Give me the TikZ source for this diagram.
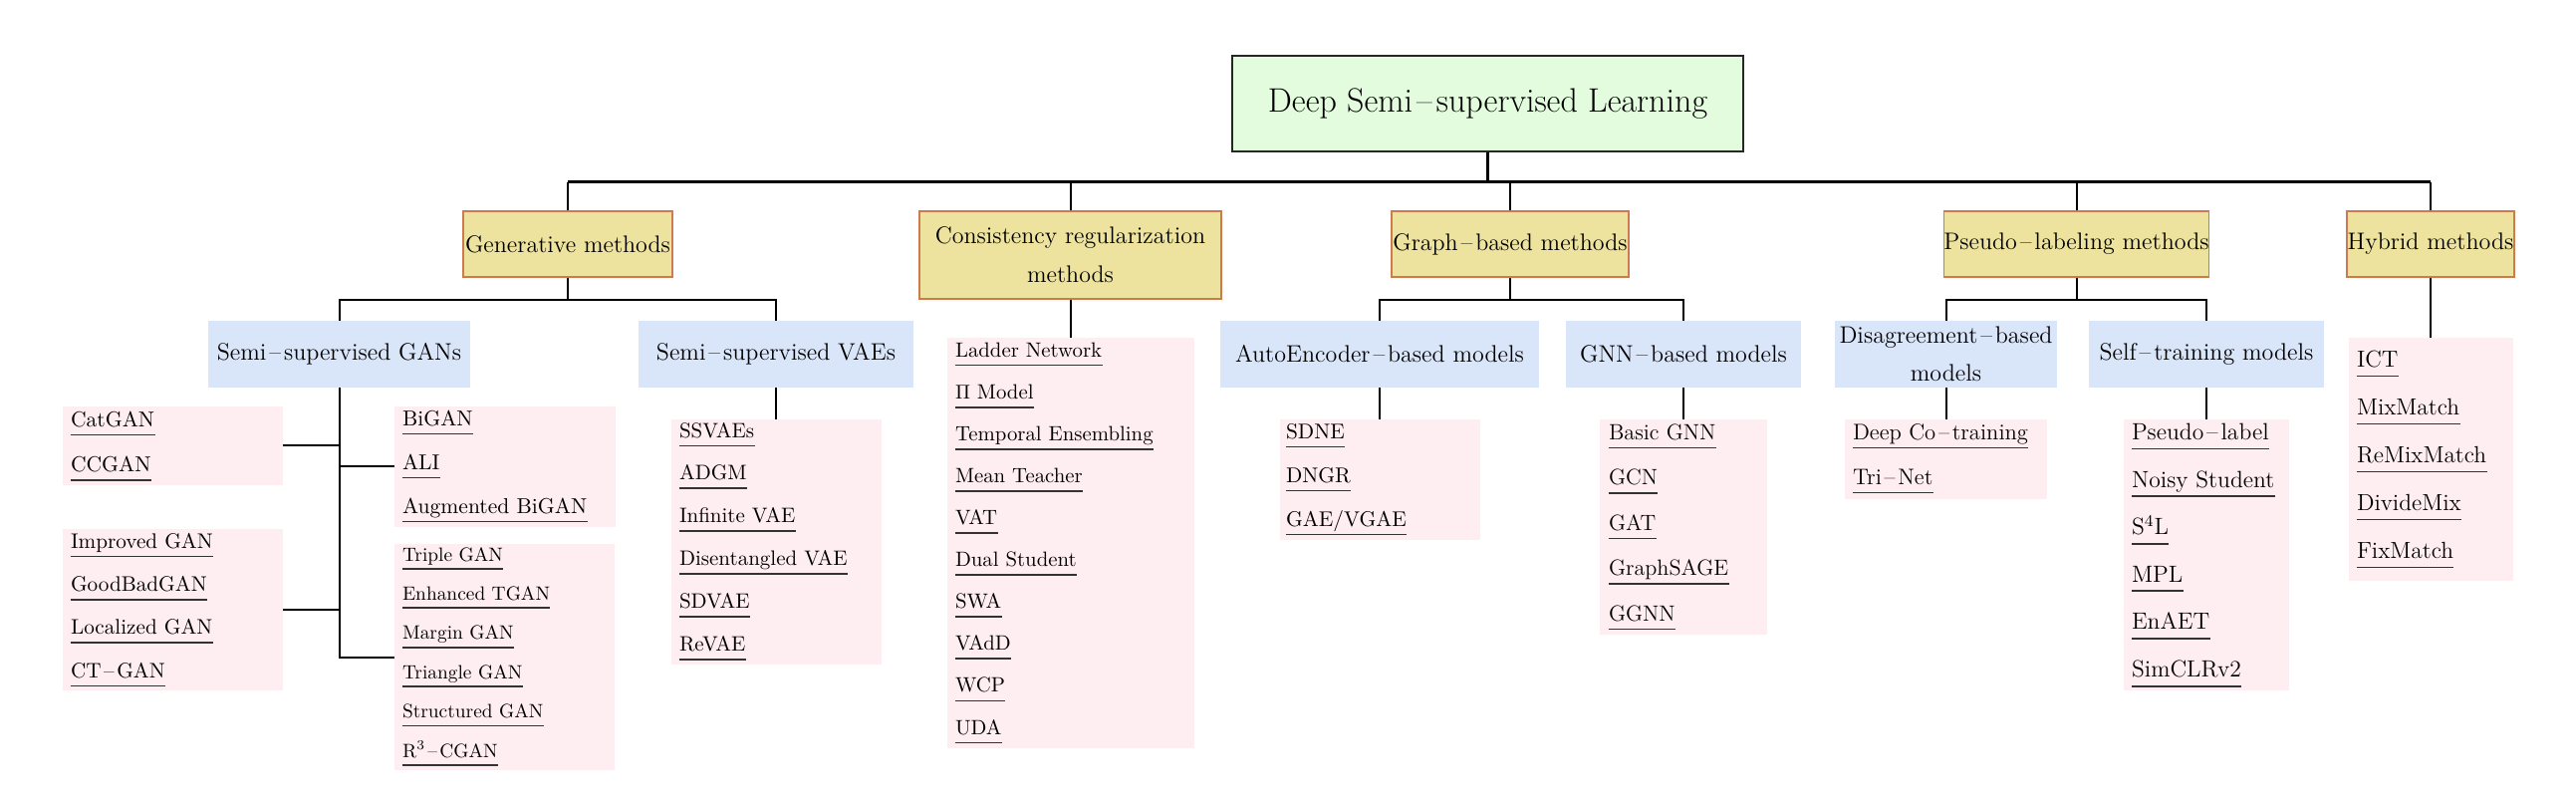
\documentclass[tikz,border=0pt]{standalone}
\definecolor{rootfill}{RGB}{227,252,222}
\definecolor{catfill}{RGB}{237,227,158}
\definecolor{catline}{RGB}{205,122,78}
\definecolor{subfill}{RGB}{217,229,248}
\definecolor{leaffill}{RGB}{255,238,241}
\newcommand{\sdash}{\kern.12em--\kern.12em}

\begin{document}
\begin{tikzpicture}[x=0.5pt,y=-0.5pt,
  rootbox/.style={draw=black!85,line width=.7pt,fill=rootfill,inner sep=0pt,
    minimum width=256.5pt,minimum height=48pt,font=\fontsize{17}{20}\selectfont},
  catbox/.style={draw=catline,line width=.7pt,fill=catfill,inner sep=0pt,
    minimum height=33pt,align=center,font=\fontsize{12}{19.5}\selectfont},
  subbox/.style={fill=subfill,inner sep=0pt,minimum height=33.5pt,align=center,
    font=\fontsize{12}{19}\selectfont},
  leafbox/.style={fill=leaffill,inner sep=0pt},
  itemtext/.style={anchor=base west,inner sep=0pt,font=\fontsize{#1}{#1}\selectfont},
  link/.style={line width=1pt},
  busline/.style={line width=1.5pt},
  uline/.style={line width=.9pt,black!80}]
\useasboundingbox (0,0) rectangle (2586,806);

% root and method families
\node[rootbox] (dsl) at (1493.5,104) {Deep Semi\sdash supervised Learning};
\node[catbox,minimum width=105pt] (gen) at (570,245) {Generative methods};
\node[catbox,minimum width=151.5pt,minimum height=44pt] (cons) at (1074.5,256)
  {Consistency regularization\\methods};
\node[catbox,minimum width=119pt] (graph) at (1516,245) {Graph\sdash based methods};
\node[catbox,minimum width=131.5pt] (pseudo) at (2084.5,245) {Pseudo\sdash labeling methods};
\node[catbox,minimum width=84pt] (hybrid) at (2440,245) {Hybrid methods};

% model groups
\node[subbox,minimum width=131.5pt] (ssgan) at (340.5,355.5) {Semi\sdash supervised GANs};
\node[subbox,minimum width=138pt] (ssvae) at (779,355.5) {Semi\sdash supervised VAEs};
\node[subbox,minimum width=160pt] (ae) at (1385,355.5) {AutoEncoder\sdash based models};
\node[subbox,minimum width=118pt] (gnn) at (1690,355.5) {GNN\sdash based models};
\node[subbox,minimum width=111.5pt] (dis) at (1953.5,355.5) {Disagreement\sdash based\\models};
\node[subbox,minimum width=118pt] (self) at (2215,355.5) {Self\sdash training models};

% lists of methods
\node[leafbox,minimum width=110.5pt,minimum height=39.5pt] (catgan) at (173.5,447.5) {};
\node[leafbox,minimum width=111pt,minimum height=60.5pt] (bigan) at (507,468.5) {};
\node[leafbox,minimum width=110.5pt,minimum height=81pt] (impgan) at (173.5,612) {};
\node[leafbox,minimum width=110.5pt,minimum height=113.5pt] (trigan) at (506.5,659.5) {};
\node[leafbox,minimum width=105.5pt,minimum height=123pt] (vaes) at (779.5,544) {};
\node[leafbox,minimum width=124pt,minimum height=206pt] (consl) at (1075,545) {};
\node[leafbox,minimum width=100.5pt,minimum height=60.5pt] (ael) at (1385.5,481.5) {};
\node[leafbox,minimum width=84pt,minimum height=108pt] (gnnl) at (1690,529) {};
\node[leafbox,minimum width=101.5pt,minimum height=40pt] (disl) at (1953.5,461) {};
\node[leafbox,minimum width=83pt,minimum height=136pt] (selfl) at (2215,557) {};
\node[leafbox,minimum width=82.5pt,minimum height=122pt] (hybl) at (2440.5,461) {};

\foreach \X [count=\Y] in {CatGAN,CCGAN}
  {\node[itemtext=10.8] (catgan-\Y) at ([shift={(8,{20.5+(\Y-1)*45.4})}]catgan.north west) {\X};
  \draw[uline] ([yshift=-4.25pt]catgan-\Y.base west) -- ([yshift=-4.25pt]catgan-\Y.base east);}
\foreach \X [count=\Y] in {BiGAN,ALI,Augmented BiGAN}
  {\node[itemtext=10.8] (bigan-\Y) at ([shift={(8,{19.5+(\Y-1)*44})}]bigan.north west) {\X};
  \draw[uline] ([yshift=-4.25pt]bigan-\Y.base west) -- ([yshift=-4.25pt]bigan-\Y.base east);}
\foreach \X [count=\Y] in {Improved GAN,GoodBadGAN,Localized GAN,CT\sdash GAN}
  {\node[itemtext=10.6] (impgan-\Y) at ([shift={(8,{19.5+(\Y-1)*43.3})}]impgan.north west) {\X};
  \draw[uline] ([yshift=-4.25pt]impgan-\Y.base west) -- ([yshift=-4.25pt]impgan-\Y.base east);}
\foreach \X [count=\Y] in {Triple GAN,Enhanced TGAN,Margin GAN,Triangle GAN,Structured GAN,
  R\textsuperscript{3}\sdash CGAN}
  {\node[itemtext=9.7] (trigan-\Y) at ([shift={(8,{17.5+(\Y-1)*39.4})}]trigan.north west) {\X};
  \draw[uline] ([yshift=-3.9pt]trigan-\Y.base west) -- ([yshift=-3.9pt]trigan-\Y.base east);}
\foreach \X [count=\Y] in {SSVAEs,ADGM,Infinite VAE,Disentangled VAE,SDVAE,ReVAE}
  {\node[itemtext=10.5] (vaes-\Y) at ([shift={(8,{18.5+(\Y-1)*42.8})}]vaes.north west) {\X};
  \draw[uline] ([yshift=-4.25pt]vaes-\Y.base west) -- ([yshift=-4.25pt]vaes-\Y.base east);}
\foreach \X [count=\Y] in {Ladder Network,$\Pi$ Model,Temporal Ensembling,Mean Teacher,VAT,
  Dual Student,SWA,VAdD,WCP,UDA}
  {\node[itemtext=10.4] (consl-\Y) at ([shift={(8,{19.5+(\Y-1)*42.1})}]consl.north west) {\X};
  \draw[uline] ([yshift=-4.25pt]consl-\Y.base west) -- ([yshift=-4.25pt]consl-\Y.base east);}
\foreach \X [count=\Y] in {SDNE,DNGR,GAE/VGAE}
  {\node[itemtext=10.7] (ael-\Y) at ([shift={(6,{19.5+(\Y-1)*44})}]ael.north west) {\X};
  \draw[uline] ([yshift=-4.25pt]ael-\Y.base west) -- ([yshift=-4.25pt]ael-\Y.base east);}
\foreach \X [count=\Y] in {Basic GNN,GCN,GAT,GraphSAGE,GGNN}
  {\node[itemtext=11.1] (gnnl-\Y) at ([shift={(9,{20.5+(\Y-1)*45.5})}]gnnl.north west) {\X};
  \draw[uline] ([yshift=-4.25pt]gnnl-\Y.base west) -- ([yshift=-4.25pt]gnnl-\Y.base east);}
\foreach \X [count=\Y] in {Deep Co\sdash training,Tri\sdash Net}
  {\node[itemtext=11.3] (disl-\Y) at ([shift={(8,{20.5+(\Y-1)*45})}]disl.north west) {\X};
  \draw[uline] ([yshift=-4.25pt]disl-\Y.base west) -- ([yshift=-4.25pt]disl-\Y.base east);}
\foreach \X [count=\Y] in {Pseudo\sdash label,Noisy Student,S\textsuperscript{4}L,MPL,EnAET,SimCLRv2}
  {\node[itemtext=11.8] (selfl-\Y) at ([shift={(8,{21+(\Y-1)*47.6})}]selfl.north west) {\X};
  \draw[uline] ([yshift=-4.5pt]selfl-\Y.base west) -- ([yshift=-4.5pt]selfl-\Y.base east);}
\foreach \X [count=\Y] in {ICT,MixMatch,ReMixMatch,DivideMix,FixMatch}
  {\node[itemtext=11.7] (hybl-\Y) at ([shift={(8,{30+(\Y-1)*48})}]hybl.north west) {\X};
  \draw[uline] ([yshift=-4.5pt]hybl-\Y.base west) -- ([yshift=-4.5pt]hybl-\Y.base east);}

% connectors
\draw[busline] (dsl.south) -- ++(0,30) coordinate (top-bus);
\draw[busline] (gen.north |- top-bus) -- (hybrid.north |- top-bus);
\foreach \c in {gen,cons,graph,pseudo,hybrid}
  \draw[link] (\c.north) -- (\c.north |- top-bus);
\draw[link] (gen.south) -- ++(0,22) coordinate (gen-bus);
\draw[link] (graph.south) -- ++(0,22) coordinate (graph-bus);
\draw[link] (pseudo.south) -- ++(0,22) coordinate (pseudo-bus);
\foreach \c/\p in {ssgan/gen,ssvae/gen,ae/graph,gnn/graph,dis/pseudo,self/pseudo}
  \draw[link] (\c.north) |- (\p-bus);
\foreach \p/\c in {cons/consl,hybrid/hybl,ssvae/vaes,ae/ael,gnn/gnnl,dis/disl,self/selfl}
  \draw[link] (\p.south) -- (\p.south |- \c.north);
\draw[link] (ssgan.south) |- (trigan.west);
\foreach \c in {catgan.east,bigan.west,impgan.east}
  \draw[link] (\c) -| (ssgan.south);
\end{tikzpicture}
\end{document}
